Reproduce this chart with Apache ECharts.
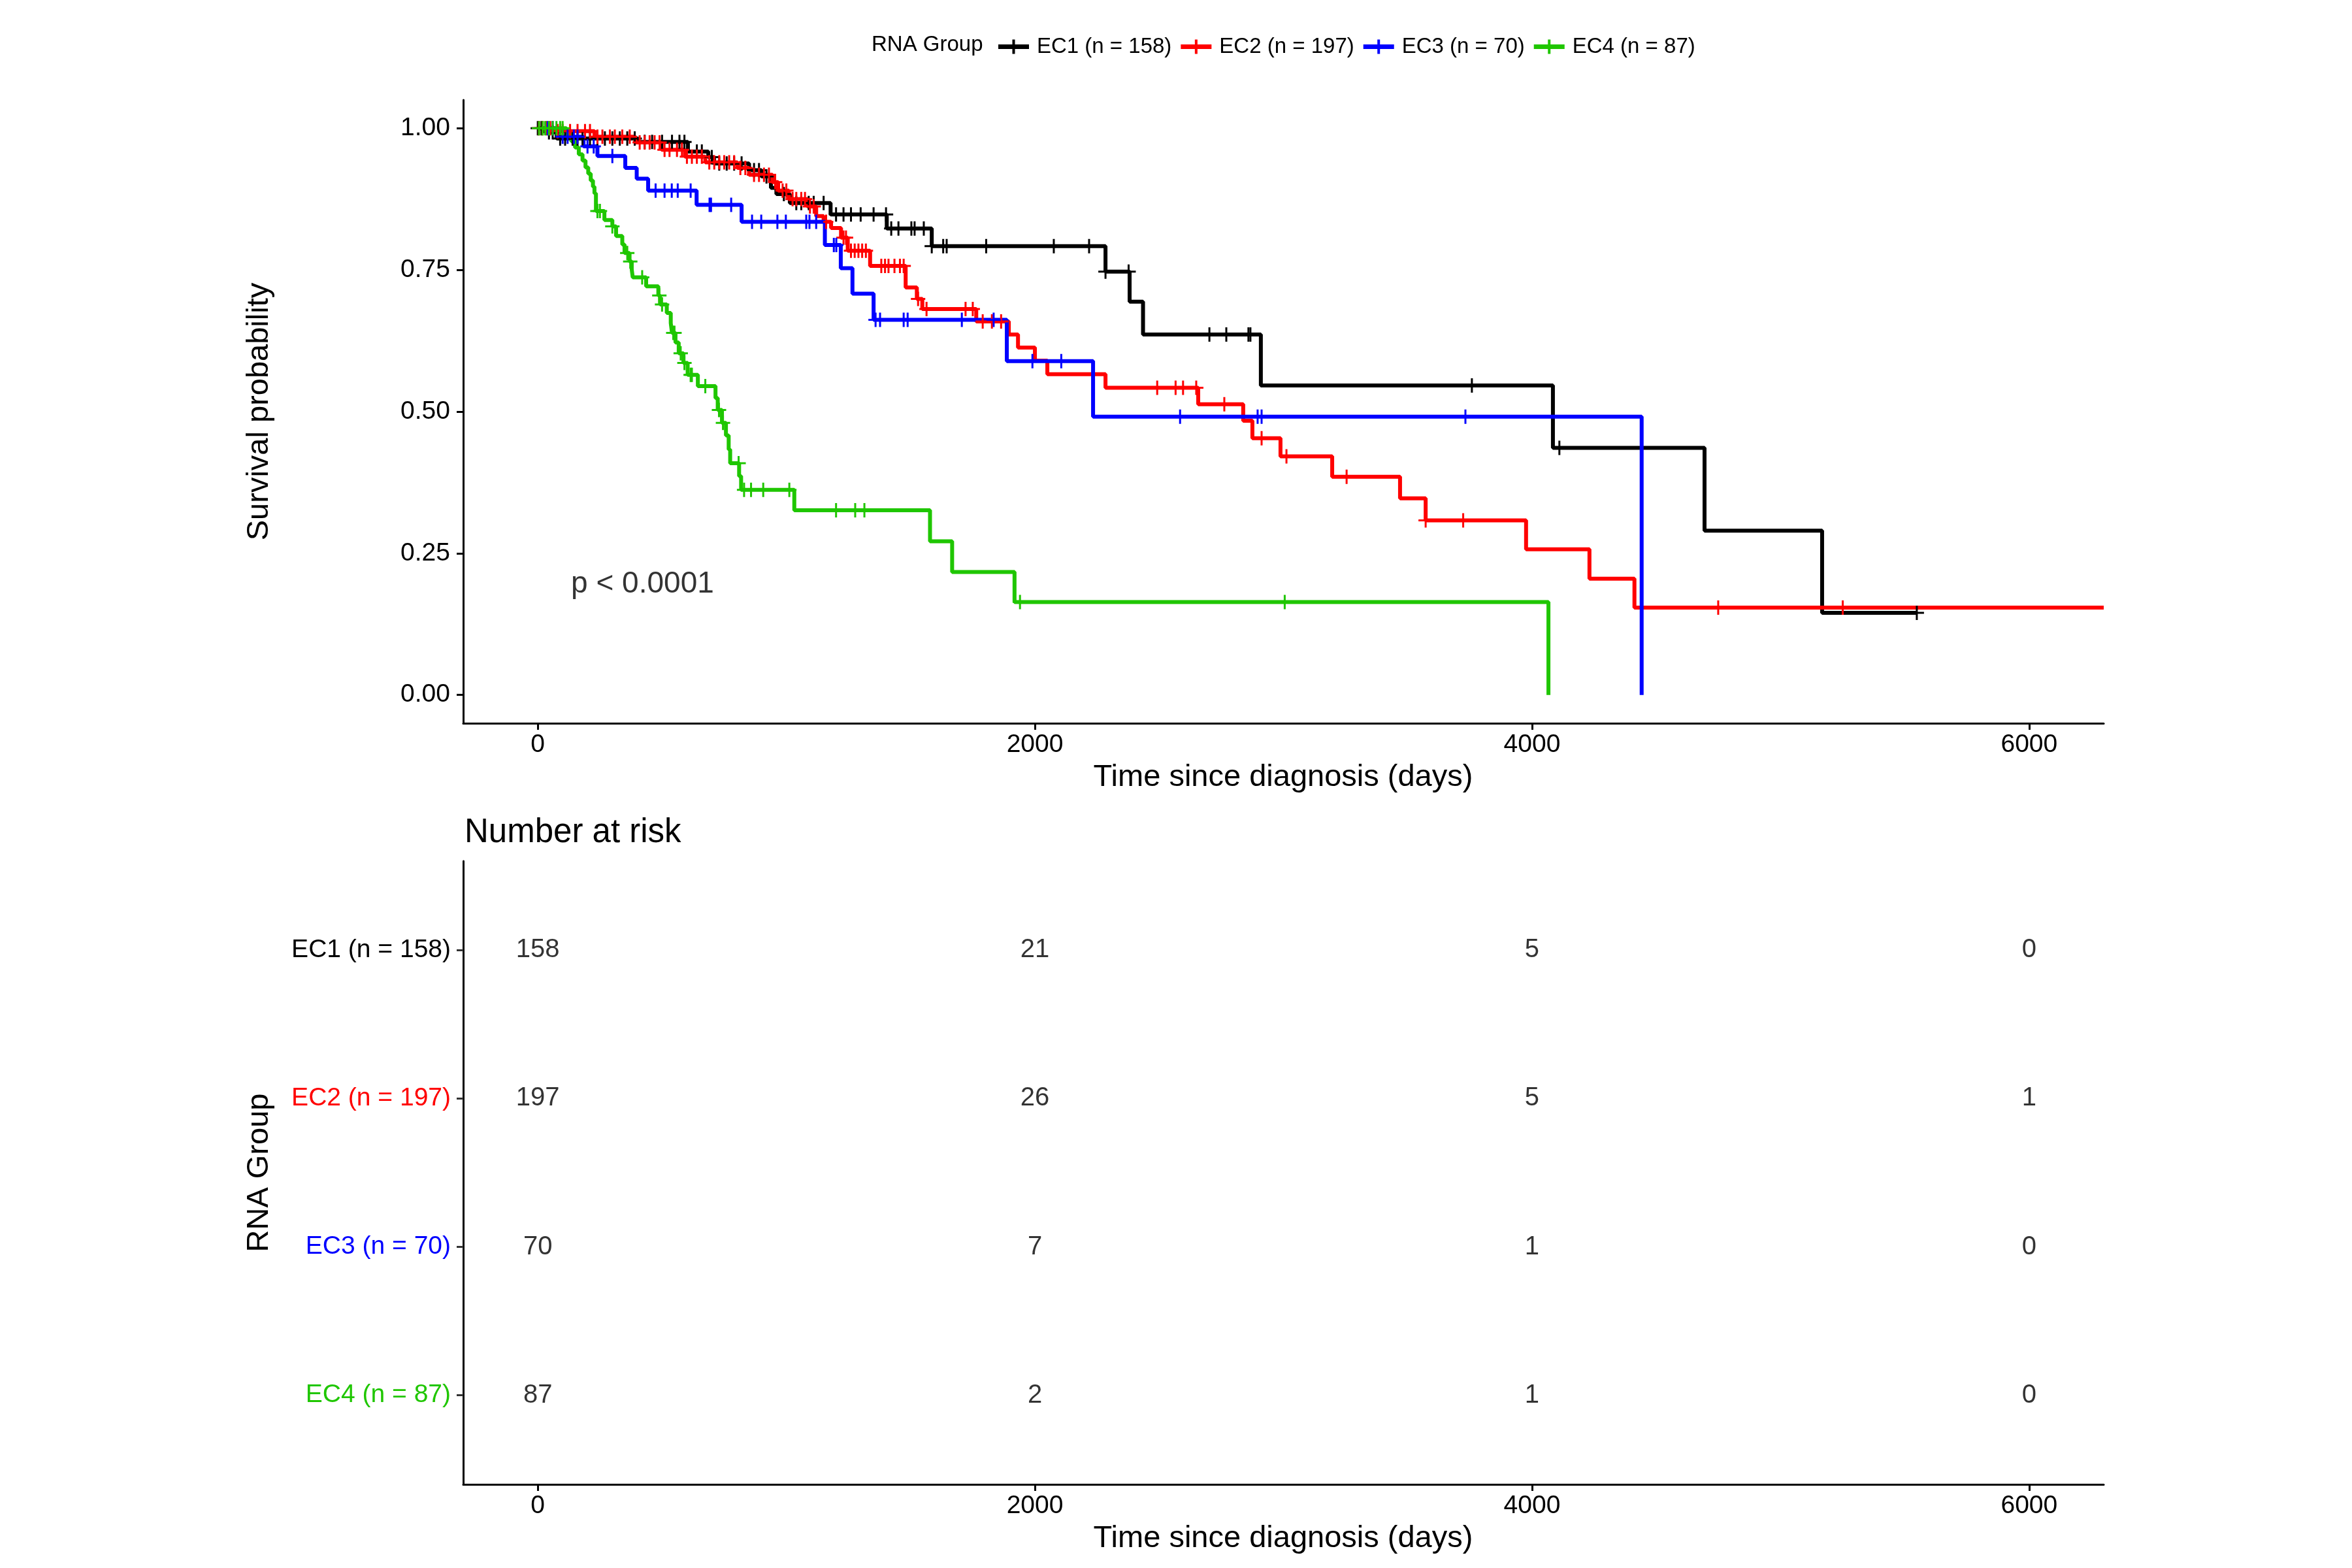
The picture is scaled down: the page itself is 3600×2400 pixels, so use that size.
<!DOCTYPE html>
<html>
<head>
<meta charset="utf-8">
<script src="https://cdn.jsdelivr.net/npm/echarts@6/dist/echarts.min.js"></script>
<style>
html,body{margin:0;padding:0;background:#fff;}
#chart{width:3600px;height:2400px;}
</style>
</head>
<body>
<div id="chart"></div>
<script>
// ---------------- data ----------------
const groups = ['EC1 (n = 158)', 'EC2 (n = 197)', 'EC3 (n = 70)', 'EC4 (n = 87)'];
const groupColors = ['#000000', '#FF0000', '#0000FF', '#1FC600'];

// Kaplan-Meier steps: [time (days), survival after that time]
const ec1Steps = [[0,1],[30,0.993],[76,0.982],[404,0.976],[604,0.959],[686,0.949],[709,0.938],[850,0.926],[900,0.915],[938,0.895],[960,0.884],[1014,0.868],[1178,0.848],[1404,0.823],[1585,0.792],[2284,0.747],[2381,0.694],[2435,0.636],[2909,0.546],[4084,0.436],[4694,0.290],[5167,0.145],[5548,0.145]];
const ec2Steps = [[0,1],[64,0.995],[228,0.985],[392,0.975],[498,0.962],[592,0.950],[674,0.940],[803,0.930],[850,0.918],[944,0.905],[967,0.890],[1010,0.875],[1085,0.862],[1120,0.845],[1150,0.835],[1180,0.824],[1220,0.807],[1247,0.784],[1337,0.757],[1480,0.719],[1525,0.699],[1547,0.681],[1764,0.659],[1895,0.636],[1932,0.613],[2000,0.590],[2050,0.566],[2284,0.542],[2657,0.513],[2838,0.484],[2875,0.453],[2988,0.421],[3196,0.385],[3469,0.347],[3572,0.308],[3976,0.257],[4231,0.205],[4412,0.154],[6300,0.154]];
const ec3Steps = [[0,1],[80,0.985],[184,0.968],[240,0.951],[352,0.930],[398,0.911],[444,0.890],[639,0.865],[820,0.835],[1155,0.794],[1219,0.753],[1266,0.708],[1351,0.662],[1887,0.589],[2234,0.491],[4441,0]];
const ec4Steps = [[0,1],[115,0.988],[135,0.977],[150,0.966],[165,0.954],[180,0.943],[192,0.931],[203,0.920],[213,0.908],[222,0.897],[228,0.885],[234,0.854],[268,0.838],[300,0.827],[315,0.810],[340,0.795],[349,0.780],[369,0.765],[378,0.751],[382,0.737],[436,0.721],[485,0.705],[492,0.689],[519,0.674],[535,0.656],[540,0.639],[554,0.622],[567,0.603],[586,0.586],[603,0.565],[644,0.545],[715,0.524],[724,0.503],[741,0.480],[757,0.458],[768,0.433],[774,0.409],[810,0.386],[818,0.362],[1032,0.326],[1578,0.271],[1667,0.217],[1918,0.164],[4066,0]];

// censoring times (days)
const ec1Censor = [0,15,45,60,90,110,140,160,180,210,240,270,300,330,360,390,430,460,500,540,570,590,640,660,700,730,760,790,820,870,890,920,990,1040,1060,1090,1110,1150,1200,1230,1260,1299,1351,1401,1422,1451,1503,1516,1553,1585,1631,1645,1804,2076,2218,2284,2377,2702,2770,2859,2867,3758,4110,5548];
const ec2Censor = [5,20,35,50,80,100,130,160,190,210,240,260,290,310,340,370,410,430,450,470,490,510,530,560,580,600,620,640,660,690,710,730,750,770,790,815,835,870,890,910,930,955,985,1000,1025,1040,1060,1075,1095,1110,1160,1230,1240,1260,1275,1290,1305,1320,1382,1397,1411,1435,1457,1472,1530,1564,1721,1750,1790,1827,1864,2492,2566,2596,2649,2762,2912,3012,3254,3572,3723,4749,5250];
const ec3Censor = [40,60,100,120,145,160,200,225,300,474,510,539,563,615,691,697,778,862,899,964,998,1080,1093,1120,1191,1201,1359,1377,1472,1488,1706,1834,1990,2106,2584,2896,2912,3732];
const ec4Censor = [5,20,30,45,60,75,90,100,240,250,300,360,372,420,489,500,545,550,575,590,615,620,674,729,745,808,830,858,907,1012,1200,1277,1314,1940,3005];

// risk table
const riskTimes = [0, 2000, 4000, 6000];
const riskEC1 = [158, 21, 5, 0];
const riskEC2 = [197, 26, 5, 1];
const riskEC3 = [70, 7, 1, 0];
const riskEC4 = [87, 2, 1, 0];

const xTicks = [0, 2000, 4000, 6000];
const yTicks = [0, 0.25, 0.5, 0.75, 1];
const riskRows = [1, 2, 3, 4];
const pValueText = 'p < 0.0001';
const pValuePos = [134, 0.195];

// ---------------- chart ----------------
const FONT = '"Liberation Sans", Arial, Helvetica, sans-serif';
const allSteps = [ec1Steps, ec2Steps, ec3Steps, ec4Steps];
const allCensor = [ec1Censor, ec2Censor, ec3Censor, ec4Censor];
const allRisk = [riskEC1, riskEC2, riskEC3, riskEC4];

function levelAt(steps, t) {
  let v = steps[0][1];
  for (const s of steps) { if (s[0] <= t) v = s[1]; else break; }
  return v;
}

const plusPath = 'path://M9.5,0h3v9.5h9.5v3h-9.5v9.5h-3v-9.5h-9.5v-3h9.5z';
const legendIcon = 'path://M0,7.5H21.5V0H25.5V7.5H47V14.5H25.5V22H21.5V14.5H0Z';

const series = [];
groups.forEach((g, i) => {
  series.push({
    name: g, type: 'line', step: 'end', xAxisIndex: 0, yAxisIndex: 0,
    data: allSteps[i], showSymbol: false, symbol: 'none',
    lineStyle: { color: groupColors[i], width: 6 },
    itemStyle: { color: groupColors[i] },
    animation: false, z: 2
  });
});
groups.forEach((g, i) => {
  series.push({
    name: g + ' censor', type: 'scatter', xAxisIndex: 0, yAxisIndex: 0,
    data: allCensor[i].map(t => [t, levelAt(allSteps[i], t)]),
    symbol: plusPath, symbolSize: 22,
    itemStyle: { color: groupColors[i], opacity: 1 },
    animation: false, z: 3
  });
});
series.push({
  type: 'scatter', xAxisIndex: 0, yAxisIndex: 0, data: [pValuePos], symbolSize: 0,
  label: { show: true, position: 'right', distance: 0, formatter: pValueText,
           fontSize: 46, fontFamily: FONT, color: '#000' },
  animation: false, silent: true
});
const riskData = [];
groups.forEach((g, i) => {
  riskTimes.forEach((t, j) => riskData.push([t, riskRows[i], allRisk[i][j]]));
});
series.push({
  type: 'scatter', xAxisIndex: 1, yAxisIndex: 1, data: riskData, symbolSize: 0,
  label: { show: true, position: 'inside', formatter: p => String(p.value[2]),
           fontSize: 40, fontFamily: FONT, color: '#000' },
  animation: false, silent: true
});

const axisLineStyle = { show: true, onZero: false, lineStyle: { color: '#000', width: 3 } };
function xAxis(gridIndex) {
  return {
    type: 'value', gridIndex, min: -300, max: 6300,
    axisLine: axisLineStyle,
    axisTick: { show: true, length: 10, lineStyle: { color: '#000', width: 3 }, customValues: xTicks },
    axisLabel: { show: true, customValues: xTicks, margin: 14, fontSize: 39, fontFamily: FONT, color: '#000',
                 formatter: v => String(v) },
    splitLine: { show: false }
  };
}

const rich = {};
groups.forEach((g, i) => { rich['g' + i] = { color: groupColors[i], fontSize: 39, fontFamily: FONT }; });

const option = {
  backgroundColor: '#fff',
  animation: false,
  grid: [
    { left: 709, right: 380, top: 153, height: 954, containLabel: false, outerBoundsMode: 'none' },
    { left: 709, right: 380, top: 1318, height: 954, containLabel: false, outerBoundsMode: 'none' }
  ],
  xAxis: [xAxis(0), xAxis(1)],
  yAxis: [
    {
      type: 'value', gridIndex: 0, min: -0.05, max: 1.05,
      axisLine: axisLineStyle,
      axisTick: { show: true, length: 10, lineStyle: { color: '#000', width: 3 }, customValues: yTicks },
      axisLabel: { show: true, customValues: yTicks, margin: 20, fontSize: 39, fontFamily: FONT, color: '#000',
                   formatter: v => Number(v).toFixed(2) },
      splitLine: { show: false }
    },
    {
      type: 'value', gridIndex: 1, min: 0.4, max: 4.6, inverse: true,
      axisLine: axisLineStyle,
      axisTick: { show: true, length: 10, lineStyle: { color: '#333', width: 3 }, customValues: riskRows },
      axisLabel: { show: true, customValues: riskRows, margin: 19, fontSize: 39, fontFamily: FONT,
                   formatter: v => { const i = Math.round(v) - 1; return '{g' + i + '|' + groups[i] + '}'; },
                   rich: rich },
      splitLine: { show: false }
    }
  ],
  legend: {
    show: true, data: groups, left: 1523, top: 50, orient: 'horizontal',
    icon: legendIcon, itemWidth: 47, itemHeight: 22, itemGap: 14,
    textStyle: { fontSize: 33, fontFamily: FONT, color: '#000', padding: [0, 0, 0, 7] },
    selectedMode: false
  },
  graphic: [
    { type: 'text', x: 1334, y: 69, style: { text: 'RNA Group', fontSize: 33, fontFamily: FONT, fill: '#000', align: 'left', verticalAlign: 'middle', textAlign: 'left', textVerticalAlign: 'middle' } },
    { type: 'text', x: 397, y: 630, rotation: Math.PI / 2, style: { text: 'Survival probability', fontSize: 47, fontFamily: FONT, fill: '#000', align: 'center', verticalAlign: 'middle', textAlign: 'center', textVerticalAlign: 'middle' } },
    { type: 'text', x: 1964, y: 1190, style: { text: 'Time since diagnosis (days)', fontSize: 47, fontFamily: FONT, fill: '#000', align: 'center', verticalAlign: 'middle', textAlign: 'center', textVerticalAlign: 'middle' } },
    { type: 'text', x: 711, y: 1275, style: { text: 'Number at risk', fontSize: 51, fontFamily: FONT, fill: '#000', align: 'left', verticalAlign: 'middle', textAlign: 'left', textVerticalAlign: 'middle' } },
    { type: 'text', x: 397, y: 1795, rotation: Math.PI / 2, style: { text: 'RNA Group', fontSize: 47, fontFamily: FONT, fill: '#000', align: 'center', verticalAlign: 'middle', textAlign: 'center', textVerticalAlign: 'middle' } },
    { type: 'text', x: 1964, y: 2355, style: { text: 'Time since diagnosis (days)', fontSize: 47, fontFamily: FONT, fill: '#000', align: 'center', verticalAlign: 'middle', textAlign: 'center', textVerticalAlign: 'middle' } }
  ],
  series: series
};

const chart = echarts.init(document.getElementById('chart'), null, { renderer: 'canvas', width: 3600, height: 2400 });
chart.setOption(option);
</script>
</body>
</html>
